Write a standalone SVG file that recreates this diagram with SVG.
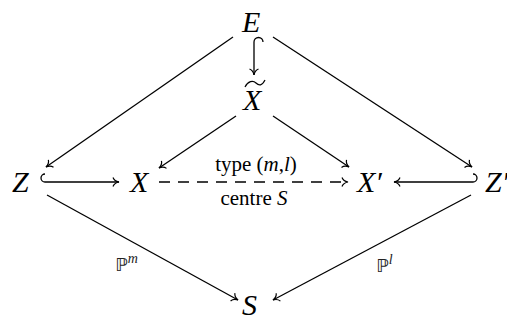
<svg xmlns="http://www.w3.org/2000/svg" width="507" height="320" viewBox="0 0 507 320">
<defs>
<marker id="to" markerUnits="userSpaceOnUse" orient="auto" refX="0" refY="0" markerWidth="12" markerHeight="12" viewBox="-8 -6 10 12" overflow="visible">
<path d="M-6,-4.5 C-5,-1.8 -2,-0.4 0,0 C-2,0.4 -5,1.8 -6,4.5" fill="none" stroke="#000" stroke-width="1.2"/>
</marker>
</defs>
<g id="connectors" fill="none" stroke="#000" stroke-width="1.3" marker-end="url(#to)">
<path d="M233,37 L46,167"/>
<path d="M273,37 L472,167"/>
<path d="M263,42 A4.5,4.5 0 0 0 254,42 L254,75"/>
<path d="M236,116 L159,168"/>
<path d="M273,116 L349,167"/>
<path d="M45,174 A4,4 0 0 0 45,182 L119,182"/>
<path d="M159,182 L348,182" stroke-dasharray="11 8"/>
<path d="M473,174 A4,4 0 0 1 473,182 L394,182"/>
<path d="M47,195 L238,300"/>
<path d="M471,195 L273,300"/>
</g>
<g font-family="Liberation Serif" font-style="italic" font-size="30">
<g id="E"><text x="242" y="32">E</text></g>
<g id="Xtilde"><text x="243" y="110">X</text><path d="M245,87 C248,81 253,80 256,83 C259,86 262,86 265,80" fill="none" stroke="#000" stroke-width="1.2"/></g>
<g id="Z"><text x="12" y="192">Z</text></g>
<g id="X"><text x="130" y="192">X</text></g>
<g id="Xprime"><text x="357" y="192">X′</text></g>
<g id="Zprime"><text x="485" y="192">Z′</text></g>
<g id="S"><text x="242" y="315">S</text></g>
</g>
<g id="labels" font-family="Liberation Serif">
<text font-size="21" x="256" y="171" text-anchor="middle">type (<tspan font-style="italic">m</tspan>,<tspan font-style="italic">l</tspan>)</text>
<text font-size="21" x="254" y="205" text-anchor="middle">centre <tspan font-style="italic">S</tspan></text>
<text x="115" y="271" fill="#222"><tspan font-family="DejaVu Sans" font-size="18">ℙ</tspan><tspan font-style="italic" font-size="14" dy="-8">m</tspan></text>
<text x="376" y="272" fill="#222"><tspan font-family="DejaVu Sans" font-size="18">ℙ</tspan><tspan font-style="italic" font-size="14" dy="-8">l</tspan></text>
</g>
</svg>
